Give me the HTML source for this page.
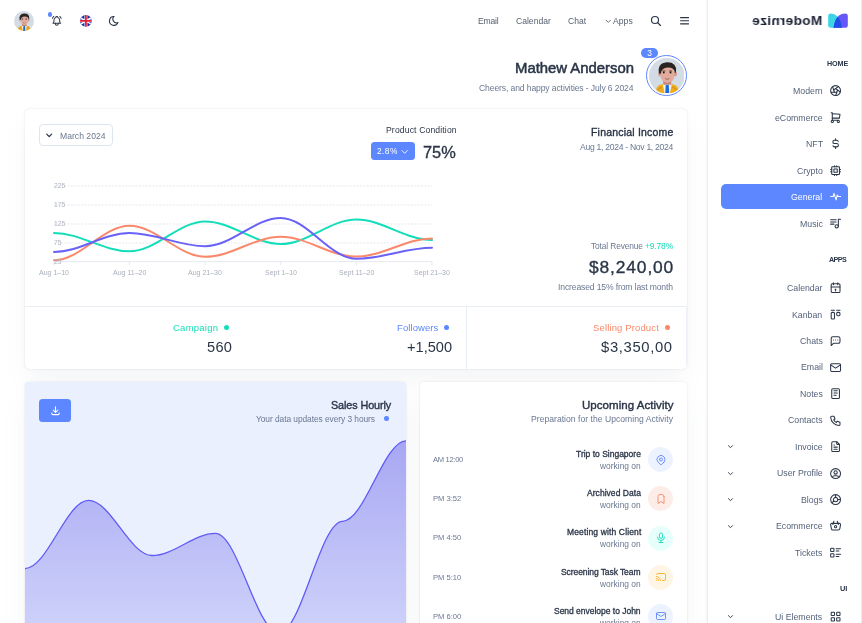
<!DOCTYPE html>
<html lang="en"><head><meta charset="utf-8"><title>Modernize Dashboard</title>
<style>
*{margin:0;padding:0;box-sizing:border-box}
html,body{width:862px;height:623px;overflow:hidden;background:#fff}
body{position:relative;font-family:'Liberation Sans',Arial,sans-serif;color:#2A3547}
.t{position:absolute;white-space:nowrap;line-height:1;will-change:transform}
.a{position:absolute}
svg.i{position:absolute;fill:none;stroke-linecap:round;stroke-linejoin:round}
.card{position:absolute;background:#fff;border-radius:5px;box-shadow:0 0 2px rgba(145,158,171,.30),0 12px 24px -4px rgba(145,158,171,.12)}
.sb{position:absolute;left:707px;top:0;width:155px;height:623px;border-left:1px solid #eaedf3;border-right:1px solid #e9edf4;background:#fff;box-shadow:-1px 0 1.5px rgba(145,158,171,.10)}
.ic{stroke:#2A3547}
.dot{position:absolute;border-radius:50%}
.act{position:absolute;width:25px;height:25px;border-radius:50%}
</style></head><body>

<!-- sidebar -->
<div class="sb"></div>
<div class="a" style="left:721px;top:184px;width:127px;height:25px;border-radius:5px;background:#5D87FF"></div>

<!-- logo -->
<svg class="a" style="left:828px;top:12.5px" width="20" height="15" viewBox="0 0 20 15">
  <path d="M0.2 3 Q0.2 0.5 2.7 0.5 Q6.5 0.5 9.8 3.8 Q13 7.5 14 14.8 L2.5 14.8 Q0.2 14.8 0.2 12.5 Z" fill="#3CD5E6"/>
  <path d="M19.8 3 Q19.8 0.5 17.3 0.5 Q13 0.5 9.8 3.8 Q6.5 7.5 5.5 14.8 L17.5 14.8 Q19.8 14.8 19.8 12.5 Z" fill="#6459F8"/>
  <path d="M9.8 3.8 Q13 7.5 14 14.8 L5.5 14.8 Q6.5 7.5 9.8 3.8 Z" fill="#1F4FE7"/>
</svg>
<div class="t" style="left:751.5px;top:14.2px;font-size:13.6px;font-weight:700;color:#1b2134;transform:scaleX(-1);letter-spacing:0.35px">Modernize</div>

<!-- header left icons -->
<svg class="a" style="left:14px;top:11px" width="20" height="20" viewBox="0 0 40 40">
  <defs><clipPath id="av1"><circle cx="20" cy="20" r="20"/></clipPath></defs>
  <g clip-path="url(#av1)">
  <rect width="40" height="40" fill="#d3dce4"/>
  <path d="M7.5 40 L8.5 34 Q10 30 15 29.5 L26 29.5 Q31 30 32.5 34 L33 40Z" fill="#efab1e"/>
  <path d="M10 36 Q12 33 14.5 33 M26 33 Q29 33 31 36" stroke="#c98314" stroke-width="1" fill="none"/>
  <path d="M15.5 29.5 L25.5 29.5 L23.5 40 L17.5 40Z" fill="#f3f3f3"/>
  <path d="M18.8 30 L22.2 30 L22.8 40 L18.2 40Z" fill="#1f6bd6"/>
  <rect x="16" y="23" width="9" height="7" fill="#c5877a"/>
  <ellipse cx="12.4" cy="18" rx="2" ry="2.8" fill="#d3988a"/>
  <ellipse cx="29.4" cy="18" rx="2" ry="2.8" fill="#d3988a"/>
  <ellipse cx="20.8" cy="18.6" rx="8" ry="9.3" fill="#e2ab9c"/>
  <path d="M11.2 17.5 Q9 6 20 4.8 Q31.5 4.5 30.4 15.5 L29.3 17.3 Q28.5 10.5 21 10.8 Q14 11 13.3 17.8Z" fill="#2a2523"/>
  <path d="M15 14.6 H18.4 M22.6 14.6 H26" stroke="#3d2f2a" stroke-width="0.9"/>
  <circle cx="16.6" cy="16.4" r="1.1" fill="#231c1a"/><circle cx="24.2" cy="16.4" r="1.1" fill="#231c1a"/>
  <path d="M18.4 23.2 Q20.6 24.6 22.8 23.2" stroke="#7a3a30" stroke-width="0.9" fill="#fff"/>
  </g>
</svg>
<div class="dot" style="left:47.7px;top:12.2px;width:4.4px;height:4.4px;background:#5D87FF"></div>
<svg class="i ic" style="left:51.1px;top:14.9px" width="11.6" height="11.6" viewBox="0 0 24 24" stroke-width="2.1">
  <path d="M10 5a2 2 0 0 1 4 0a7 7 0 0 1 4 6v3a4 4 0 0 0 2 3h-16a4 4 0 0 0 2 -3v-3a7 7 0 0 1 4 -6"/><path d="M9 17v1a3 3 0 0 0 6 0v-1"/><path d="M21 6.727a11.05 11.05 0 0 0 -2.794 -3.727"/><path d="M3 6.727a11.05 11.05 0 0 1 2.792 -3.727"/>
</svg>
<svg class="a" style="left:79.8px;top:14.9px" width="11.8" height="11.8" viewBox="0 0 60 60">
  <defs><clipPath id="fl"><circle cx="30" cy="30" r="30"/></clipPath></defs>
  <g clip-path="url(#fl)">
   <rect width="60" height="60" fill="#1b2fa6"/>
   <path d="M-10 5L70 55M70 5L-10 55" stroke="#fff" stroke-width="7"/>
   <path d="M30 0V60M0 30H60" stroke="#fff" stroke-width="15"/>
   <path d="M30 0V60M0 30H60" stroke="#e21f36" stroke-width="9.5"/>
  </g>
</svg>
<svg class="i ic" style="left:107.9px;top:14.6px" width="11.8" height="11.8" viewBox="0 0 24 24" stroke-width="2.2">
  <path d="M12 3c.132 0 .263 0 .393 0a7.5 7.5 0 0 0 7.92 12.446a9 9 0 1 1 -8.313 -12.454z"/>
</svg>

<!-- nav right icons -->
<svg class="i" style="left:604.9px;top:17.6px" width="6.6" height="6.6" viewBox="0 0 24 24" stroke="#575f6e" stroke-width="3.2"><path d="M4 8l8 8l8 -8"/></svg>
<svg class="i ic" style="left:649.5px;top:14.7px" width="12" height="12" viewBox="0 0 24 24" stroke-width="2.3"><path d="M10 10m-7 0a7 7 0 1 0 14 0a7 7 0 1 0 -14 0"/><path d="M21 21l-6 -6"/></svg>
<svg class="a" style="left:679.7px;top:16.8px" width="9.2" height="8" viewBox="0 0 9.2 8"><path d="M0.6 0.7H8.6M0.6 3.75H8.6M0.6 6.8H8.6" stroke="#2A3547" stroke-width="1.25" stroke-linecap="round"/></svg>

<!-- greeting avatar -->
<div class="a" style="left:646.2px;top:55.2px;width:41px;height:41px;border-radius:50%;border:1.8px solid #5D87FF"></div>
<svg class="a" style="left:648.9px;top:57.9px" width="35.6" height="35.6" viewBox="0 0 40 40">
  <defs><clipPath id="av2"><circle cx="20" cy="20" r="20"/></clipPath></defs>
  <g clip-path="url(#av2)">
  <rect width="40" height="40" fill="#d3dce4"/>
  <path d="M7.5 40 L8.5 34 Q10 30 15 29.5 L26 29.5 Q31 30 32.5 34 L33 40Z" fill="#efab1e"/>
  <path d="M10 36 Q12 33 14.5 33 M26 33 Q29 33 31 36" stroke="#c98314" stroke-width="1" fill="none"/>
  <path d="M15.5 29.5 L25.5 29.5 L23.5 40 L17.5 40Z" fill="#f3f3f3"/>
  <path d="M18.8 30 L22.2 30 L22.8 40 L18.2 40Z" fill="#1f6bd6"/>
  <rect x="16" y="23" width="9" height="7" fill="#c5877a"/>
  <ellipse cx="12.4" cy="18" rx="2" ry="2.8" fill="#d3988a"/>
  <ellipse cx="29.4" cy="18" rx="2" ry="2.8" fill="#d3988a"/>
  <ellipse cx="20.8" cy="18.6" rx="8" ry="9.3" fill="#e2ab9c"/>
  <path d="M11.2 17.5 Q9 6 20 4.8 Q31.5 4.5 30.4 15.5 L29.3 17.3 Q28.5 10.5 21 10.8 Q14 11 13.3 17.8Z" fill="#2a2523"/>
  <path d="M15 14.6 H18.4 M22.6 14.6 H26" stroke="#3d2f2a" stroke-width="0.9"/>
  <circle cx="16.6" cy="16.4" r="1.1" fill="#231c1a"/><circle cx="24.2" cy="16.4" r="1.1" fill="#231c1a"/>
  <path d="M18.4 23.2 Q20.6 24.6 22.8 23.2" stroke="#7a3a30" stroke-width="0.9" fill="#fff"/>
  </g>
</svg>
<div class="a" style="left:641px;top:47.8px;width:17px;height:10px;border-radius:5px;background:#5D87FF;color:#fff;font-size:8.4px;line-height:10.4px;text-align:center;will-change:transform">3</div>

<!-- card 1 -->
<div class="card" style="left:25px;top:109px;width:662px;height:260px"></div>
<div class="a" style="left:25px;top:306px;width:662px;height:1px;background:#e9edf4"></div>
<div class="a" style="left:466px;top:306px;width:1px;height:63px;background:#e9edf4"></div>
<div class="a" style="left:686px;top:306px;width:1px;height:59px;background:#edf0f6"></div>
<div class="a" style="left:39px;top:124px;width:74px;height:21.5px;border:1px solid #dfe5ef;border-radius:4px"></div>
<svg class="i" style="left:45.3px;top:131px" width="8.4" height="8.4" viewBox="0 0 24 24" stroke="#2A3547" stroke-width="3.6"><path d="M5 9l7 7l7 -7"/></svg>
<div class="a" style="left:371.2px;top:142.4px;width:44.2px;height:17.3px;border-radius:3.5px;background:#5D87FF"></div>
<svg class="i" style="left:400.4px;top:147.4px" width="9.4" height="9.4" viewBox="0 0 24 24" stroke="#fff" stroke-width="2.2"><path d="M5 9l7 7l7 -7"/></svg>

<!-- chart 1 -->
<svg class="a" style="left:0;top:0" width="862" height="623" viewBox="0 0 862 623">
  <g stroke="#e1e4ea" stroke-width="0.9" stroke-dasharray="2 1.4">
    <path d="M54 186H432M54 205H432M54 224H432M54 243H432"/>
  </g>
  <path d="M54 261.6H432" stroke="#e3e7ef" stroke-width="0.9"/>
  <path d="M54 261.6v3.5M129.6 261.6v3.5M205.2 261.6v3.5M280.8 261.6v3.5M356.4 261.6v3.5M432 261.6v3.5" stroke="#e3e7ef" stroke-width="0.9"/>
  <g fill="none" stroke-width="2" stroke-linecap="round">
  <path stroke="#13DEB9" d="M54.0 233.0 C80.5 233.0 103.1 251.3 129.6 251.3 C156.1 251.3 178.7 221.4 205.2 221.4 C231.7 221.4 254.3 244.0 280.8 244.0 C307.3 244.0 329.9 219.6 356.4 219.6 C382.9 219.6 405.5 240.0 432.0 240.0"/>
  <path stroke="#FA896B" d="M54.0 260.2 C80.5 260.2 103.1 225.7 129.6 225.7 C156.1 225.7 178.7 256.8 205.2 256.8 C231.7 256.8 254.3 236.8 280.8 236.8 C307.3 236.8 329.9 256.6 356.4 256.6 C382.9 256.6 405.5 238.4 432.0 238.4"/>
  <path stroke="#6a62f7" d="M54.0 251.9 C80.5 251.9 103.1 233.0 129.6 233.0 C156.1 233.0 178.7 246.2 205.2 246.2 C231.7 246.2 254.3 218.0 280.8 218.0 C307.3 218.0 329.9 258.8 356.4 258.8 C382.9 258.8 405.5 247.8 432.0 247.8"/>
  </g>
</svg>

<!-- stat dots -->
<div class="dot" style="left:223.8px;top:325px;width:5px;height:5px;background:#13DEB9"></div>
<div class="dot" style="left:443.9px;top:325px;width:5px;height:5px;background:#5D87FF"></div>
<div class="dot" style="left:664.7px;top:325px;width:5px;height:5px;background:#FA896B"></div>

<!-- sales hourly card -->
<div class="card" style="left:25px;top:382px;width:381px;height:260px;background:#EAF0FE;overflow:hidden;border-radius:4px">
 <svg class="a" style="left:-25px;top:-382px" width="862" height="1005" viewBox="0 0 862 1005">
  <defs><linearGradient id="ag" x1="0" y1="440" x2="0" y2="640" gradientUnits="userSpaceOnUse">
    <stop offset="0" stop-color="#7E78EC" stop-opacity="0.62"/><stop offset="1" stop-color="#8f8ff0" stop-opacity="0.30"/></linearGradient>
   <filter id="sh" x="-10%" y="-10%" width="120%" height="130%"><feGaussianBlur stdDeviation="2"/></filter></defs>
  <path d="M25.0 568.6 C47.2 568.6 66.3 500.4 88.5 500.4 C110.7 500.4 129.8 555.5 152.0 555.5 C174.2 555.5 193.3 533.4 215.5 533.4 C237.7 533.4 256.8 633.0 279.0 633.0 C301.2 633.0 320.3 521.3 342.5 521.3 C364.7 521.3 383.8 440.8 406.0 440.8 L406 700 L25 700Z" fill="url(#ag)"/>
  <path d="M25.0 568.6 C47.2 568.6 66.3 500.4 88.5 500.4 C110.7 500.4 129.8 555.5 152.0 555.5 C174.2 555.5 193.3 533.4 215.5 533.4 C237.7 533.4 256.8 633.0 279.0 633.0 C301.2 633.0 320.3 521.3 342.5 521.3 C364.7 521.3 383.8 440.8 406.0 440.8" fill="none" stroke="#5f5cf6" stroke-width="1.3"/>
 </svg>
</div>
<div class="a" style="left:39px;top:398.5px;width:32px;height:23px;border-radius:3.5px;background:#5D87FF"></div>
<svg class="i" style="left:49.5px;top:404.5px" width="11" height="11" viewBox="0 0 24 24" stroke="#fff" stroke-width="2.2"><path d="M4 17v2a2 2 0 0 0 2 2h12a2 2 0 0 0 2 -2v-2"/><path d="M7 11l5 5l5 -5"/><path d="M12 4l0 12"/></svg>
<div class="dot" style="left:384px;top:416px;width:4.6px;height:4.6px;background:#5D87FF"></div>

<!-- upcoming card -->
<div class="card" style="left:420px;top:382px;width:267px;height:260px;border-radius:4px"></div>
<div class="act" style="left:648.3px;top:447.3px;background:#ECF2FF"></div>
<svg class="i" style="left:654.8px;top:453.8px" width="12" height="12" viewBox="0 0 24 24" stroke="#5D87FF" stroke-width="1.8"><path d="M9 11a3 3 0 1 0 6 0a3 3 0 0 0 -6 0"/><path d="M17.657 16.657l-4.243 4.243a2 2 0 0 1 -2.827 0l-4.244 -4.243a8 8 0 1 1 11.314 0z"/></svg>
<div class="act" style="left:648.3px;top:486.4px;background:#FDEDE8"></div>
<svg class="i" style="left:654.8px;top:492.9px" width="12" height="12" viewBox="0 0 24 24" stroke="#FA896B" stroke-width="1.8"><path d="M18 7v14l-6 -4l-6 4v-14a4 4 0 0 1 4 -4h4a4 4 0 0 1 4 4z"/></svg>
<div class="act" style="left:648.3px;top:525.5px;background:#E6FFFA"></div>
<svg class="i" style="left:654.8px;top:532px" width="12" height="12" viewBox="0 0 24 24" stroke="#13DEB9" stroke-width="1.8"><path d="M9 2m0 3a3 3 0 0 1 3 -3h0a3 3 0 0 1 3 3v5a3 3 0 0 1 -3 3h0a3 3 0 0 1 -3 -3z"/><path d="M5 10a7 7 0 0 0 14 0"/><path d="M8 21l8 0"/><path d="M12 17l0 4"/></svg>
<div class="act" style="left:648.3px;top:564.6px;background:#FEF5E5"></div>
<svg class="i" style="left:654.8px;top:571.1px" width="12" height="12" viewBox="0 0 24 24" stroke="#FFAE1F" stroke-width="1.8"><path d="M3 19l.01 0"/><path d="M7 19a4 4 0 0 0 -4 -4"/><path d="M11 19a8 8 0 0 0 -8 -8"/><path d="M15 19h3a3 3 0 0 0 3 -3v-8a3 3 0 0 0 -3 -3h-12a3 3 0 0 0 -2.8 2"/></svg>
<div class="act" style="left:648.3px;top:603.7px;background:#ECF2FF"></div>
<svg class="i" style="left:654.8px;top:610.2px" width="12" height="12" viewBox="0 0 24 24" stroke="#5D87FF" stroke-width="1.8"><path d="M3 7a2 2 0 0 1 2 -2h14a2 2 0 0 1 2 2v10a2 2 0 0 1 -2 2h-14a2 2 0 0 1 -2 -2v-10z"/><path d="M3 7l9 6l9 -6"/></svg>

<!-- sidebar icons -->
<svg class="i" style="left:829.40px;top:84.40px" width="13.2" height="13.2" viewBox="0 0 24 24" stroke="#2A3547" stroke-width="1.9"><path d="M12 12m-9 0a9 9 0 1 0 18 0a9 9 0 1 0 -18 0"/><path d="M3.6 15h10.55"/><path d="M6.551 4.938l3.26 10.034"/><path d="M17.032 4.636l-8.535 6.201"/><path d="M20.559 14.51l-8.535 -6.201"/><path d="M12.257 20.916l3.261 -10.034"/></svg>
<svg class="i" style="left:829.40px;top:110.90px" width="13.2" height="13.2" viewBox="0 0 24 24" stroke="#2A3547" stroke-width="1.9"><path d="M6 19m-2 0a2 2 0 1 0 4 0a2 2 0 1 0 -4 0"/><path d="M17 19m-2 0a2 2 0 1 0 4 0a2 2 0 1 0 -4 0"/><path d="M17 17h-11v-14h-2"/><path d="M6 5l14 1l-1 7h-13"/></svg>
<svg class="i" style="left:829.40px;top:137.40px" width="13.2" height="13.2" viewBox="0 0 24 24" stroke="#2A3547" stroke-width="1.9"><path d="M16.7 8a3 3 0 0 0 -2.7 -2h-4a3 3 0 0 0 0 6h4a3 3 0 0 1 0 6h-4a3 3 0 0 1 -2.7 -2"/><path d="M12 3v3m0 12v3"/></svg>
<svg class="i" style="left:829.40px;top:163.90px" width="13.2" height="13.2" viewBox="0 0 24 24" stroke="#2A3547" stroke-width="1.9"><path d="M5 5m0 1a1 1 0 0 1 1 -1h12a1 1 0 0 1 1 1v12a1 1 0 0 1 -1 1h-12a1 1 0 0 1 -1 -1z"/><path d="M9 9h6v6h-6z"/><path d="M3 10h2"/><path d="M3 14h2"/><path d="M10 3v2"/><path d="M14 3v2"/><path d="M21 10h-2"/><path d="M21 14h-2"/><path d="M14 21v-2"/><path d="M10 21v-2"/></svg>
<svg class="i" style="left:829.40px;top:190.40px" width="13.2" height="13.2" viewBox="0 0 24 24" stroke="#fff" stroke-width="1.9"><path d="M3 12h4.5l1.5 -6l4 12l2 -9l1.5 3h4.5"/></svg>
<svg class="i" style="left:829.40px;top:216.90px" width="13.2" height="13.2" viewBox="0 0 24 24" stroke="#2A3547" stroke-width="1.9"><path d="M14 17m-3 0a3 3 0 1 0 6 0a3 3 0 1 0 -6 0"/><path d="M17 17v-13h4"/><path d="M13 5h-10"/><path d="M3 9l10 0"/><path d="M9 13h-6"/></svg>
<svg class="i" style="left:829.40px;top:281.40px" width="13.2" height="13.2" viewBox="0 0 24 24" stroke="#2A3547" stroke-width="1.9"><path d="M4 7a2 2 0 0 1 2 -2h12a2 2 0 0 1 2 2v12a2 2 0 0 1 -2 2h-12a2 2 0 0 1 -2 -2v-12z"/><path d="M16 3v4"/><path d="M8 3v4"/><path d="M4 11h16"/><path d="M11 15h1"/><path d="M12 15v3"/></svg>
<svg class="i" style="left:829.40px;top:307.85px" width="13.2" height="13.2" viewBox="0 0 24 24" stroke="#2A3547" stroke-width="1.9"><path d="M4 4l6 0"/><path d="M14 4l6 0"/><path d="M4 8m0 2a2 2 0 0 1 2 -2h2a2 2 0 0 1 2 2v8a2 2 0 0 1 -2 2h-2a2 2 0 0 1 -2 -2z"/><path d="M14 8m0 2a2 2 0 0 1 2 -2h2a2 2 0 0 1 2 2v2a2 2 0 0 1 -2 2h-2a2 2 0 0 1 -2 -2z"/></svg>
<svg class="i" style="left:829.40px;top:334.30px" width="13.2" height="13.2" viewBox="0 0 24 24" stroke="#2A3547" stroke-width="1.9"><path d="M4 21v-13a3 3 0 0 1 3 -3h10a3 3 0 0 1 3 3v6a3 3 0 0 1 -3 3h-9l-4 4"/><path d="M12 11l0 .01"/><path d="M8 11l0 .01"/><path d="M16 11l0 .01"/></svg>
<svg class="i" style="left:829.40px;top:360.75px" width="13.2" height="13.2" viewBox="0 0 24 24" stroke="#2A3547" stroke-width="1.9"><path d="M3 7a2 2 0 0 1 2 -2h14a2 2 0 0 1 2 2v10a2 2 0 0 1 -2 2h-14a2 2 0 0 1 -2 -2v-10z"/><path d="M3 7l9 6l9 -6"/></svg>
<svg class="i" style="left:829.40px;top:387.20px" width="13.2" height="13.2" viewBox="0 0 24 24" stroke="#2A3547" stroke-width="1.9"><path d="M5 3m0 2a2 2 0 0 1 2 -2h10a2 2 0 0 1 2 2v14a2 2 0 0 1 -2 2h-10a2 2 0 0 1 -2 -2z"/><path d="M9 7l6 0"/><path d="M9 11l6 0"/><path d="M9 15l4 0"/></svg>
<svg class="i" style="left:829.40px;top:413.65px" width="13.2" height="13.2" viewBox="0 0 24 24" stroke="#2A3547" stroke-width="1.9"><path d="M5 4h4l2 5l-2.5 1.5a11 11 0 0 0 5 5l1.5 -2.5l5 2v4a2 2 0 0 1 -2 2a16 16 0 0 1 -15 -15a2 2 0 0 1 2 -2"/></svg>
<svg class="i" style="left:829.40px;top:440.10px" width="13.2" height="13.2" viewBox="0 0 24 24" stroke="#2A3547" stroke-width="1.9"><path d="M14 3v4a1 1 0 0 0 1 1h4"/><path d="M17 21h-10a2 2 0 0 1 -2 -2v-14a2 2 0 0 1 2 -2h7l5 5v11a2 2 0 0 1 -2 2z"/><path d="M9 9l1 0"/><path d="M9 13l6 0"/><path d="M9 17l6 0"/></svg>
<svg class="i" style="left:727.30px;top:443.20px" width="7" height="7" viewBox="0 0 24 24" stroke="#2A3547" stroke-width="3.2"><path d="M5 9l7 7l7 -7"/></svg>
<svg class="i" style="left:829.40px;top:466.55px" width="13.2" height="13.2" viewBox="0 0 24 24" stroke="#2A3547" stroke-width="1.9"><path d="M12 12m-9 0a9 9 0 1 0 18 0a9 9 0 1 0 -18 0"/><path d="M12 10m-3 0a3 3 0 1 0 6 0a3 3 0 1 0 -6 0"/><path d="M6.168 18.849a4 4 0 0 1 3.832 -2.849h4a4 4 0 0 1 3.834 2.855"/></svg>
<svg class="i" style="left:727.30px;top:469.65px" width="7" height="7" viewBox="0 0 24 24" stroke="#2A3547" stroke-width="3.2"><path d="M5 9l7 7l7 -7"/></svg>
<svg class="i" style="left:829.40px;top:493.00px" width="13.2" height="13.2" viewBox="0 0 24 24" stroke="#2A3547" stroke-width="1.9"><path d="M12 3v5m4 4h5"/><path d="M8.929 14.582l-3.429 2.918"/><path d="M12 12m-4 0a4 4 0 1 0 8 0a4 4 0 1 0 -8 0"/><path d="M12 12m-9 0a9 9 0 1 0 18 0a9 9 0 1 0 -18 0"/></svg>
<svg class="i" style="left:727.30px;top:496.10px" width="7" height="7" viewBox="0 0 24 24" stroke="#2A3547" stroke-width="3.2"><path d="M5 9l7 7l7 -7"/></svg>
<svg class="i" style="left:829.40px;top:519.45px" width="13.2" height="13.2" viewBox="0 0 24 24" stroke="#2A3547" stroke-width="1.9"><path d="M10 14a2 2 0 1 0 4 0a2 2 0 0 0 -4 0"/><path d="M5.001 8h13.999a2 2 0 0 1 1.977 2.304l-1.255 7.152a3 3 0 0 1 -2.966 2.544h-9.512a3 3 0 0 1 -2.965 -2.544l-1.255 -7.152a2 2 0 0 1 1.977 -2.304z"/><path d="M17 10l-2 -6"/><path d="M7 10l2 -6"/></svg>
<svg class="i" style="left:727.30px;top:522.55px" width="7" height="7" viewBox="0 0 24 24" stroke="#2A3547" stroke-width="3.2"><path d="M5 9l7 7l7 -7"/></svg>
<svg class="i" style="left:829.40px;top:545.90px" width="13.2" height="13.2" viewBox="0 0 24 24" stroke="#2A3547" stroke-width="1.9"><path d="M13 5h8"/><path d="M13 9h5"/><path d="M13 15h8"/><path d="M13 19h5"/><path d="M3 4m0 1a1 1 0 0 1 1 -1h4a1 1 0 0 1 1 1v4a1 1 0 0 1 -1 1h-4a1 1 0 0 1 -1 -1z"/><path d="M3 14m0 1a1 1 0 0 1 1 -1h4a1 1 0 0 1 1 1v4a1 1 0 0 1 -1 1h-4a1 1 0 0 1 -1 -1z"/></svg>
<svg class="i" style="left:829.40px;top:610.00px" width="13.2" height="13.2" viewBox="0 0 24 24" stroke="#2A3547" stroke-width="1.9"><path d="M4 4m0 1a1 1 0 0 1 1 -1h4a1 1 0 0 1 1 1v4a1 1 0 0 1 -1 1h-4a1 1 0 0 1 -1 -1z"/><path d="M14 4m0 1a1 1 0 0 1 1 -1h4a1 1 0 0 1 1 1v4a1 1 0 0 1 -1 1h-4a1 1 0 0 1 -1 -1z"/><path d="M4 14m0 1a1 1 0 0 1 1 -1h4a1 1 0 0 1 1 1v4a1 1 0 0 1 -1 1h-4a1 1 0 0 1 -1 -1z"/><path d="M14 14m0 1a1 1 0 0 1 1 -1h4a1 1 0 0 1 1 1v4a1 1 0 0 1 -1 1h-4a1 1 0 0 1 -1 -1z"/></svg>
<svg class="i" style="left:727.30px;top:613.10px" width="7" height="7" viewBox="0 0 24 24" stroke="#2A3547" stroke-width="3.2"><path d="M5 9l7 7l7 -7"/></svg>

<div class="t" style="top:17.00px;font-size:8.6px;color:#575f6e;letter-spacing:-0.225px;left:478.40px;">Email</div>
<div class="t" style="top:17.00px;font-size:8.6px;color:#575f6e;letter-spacing:-0.011px;left:516.20px;">Calendar</div>
<div class="t" style="top:17.00px;font-size:8.6px;color:#575f6e;letter-spacing:-0.019px;left:568.30px;">Chat</div>
<div class="t" style="top:17.00px;font-size:8.6px;color:#575f6e;letter-spacing:0.035px;left:613.00px;">Apps</div>
<div class="t" style="top:61.40px;font-size:14.9px;color:#2A3547;-webkit-text-stroke:0.52px currentColor;letter-spacing:-0.015px;left:514.80px;">Mathew Anderson</div>
<div class="t" style="top:84.00px;font-size:8.6px;color:#6b7891;letter-spacing:-0.123px;left:479.30px;">Cheers, and happy activities - July 6 2024</div>
<div class="t" style="top:131.80px;font-size:8.6px;color:#6b7891;letter-spacing:0.012px;left:59.80px;">March 2024</div>
<div class="t" style="top:126.10px;font-size:8.6px;color:#2A3547;letter-spacing:0.142px;left:386.40px;">Product Condition</div>
<div class="t" style="top:146.90px;font-size:8.4px;color:#fff;letter-spacing:0.435px;left:376.60px;">2.8%</div>
<div class="t" style="top:143.60px;font-size:16.4px;color:#2A3547;-webkit-text-stroke:0.33px currentColor;left:423.20px;">75%</div>
<div class="t" style="top:127.20px;font-size:10.5px;color:#2A3547;-webkit-text-stroke:0.37px currentColor;letter-spacing:0.202px;left:590.60px;">Financial Income</div>
<div class="t" style="top:142.70px;font-size:8.6px;color:#6b7891;letter-spacing:-0.293px;left:579.70px;">Aug 1, 2024 - Nov 1, 2024</div>
<div class="t" style="top:241.80px;font-size:8.4px;color:#6b7891;letter-spacing:-0.127px;left:590.90px;">Total Revenue <span style="color:#13DEB9">+9.78%</span></div>
<div class="t" style="top:258.60px;font-size:17.4px;color:#2A3547;-webkit-text-stroke:0.35px currentColor;letter-spacing:0.866px;left:588.70px;">$8,240,00</div>
<div class="t" style="top:283.20px;font-size:8.6px;color:#6b7891;letter-spacing:-0.141px;left:558.00px;">Increased 15% from last month</div>
<div class="t" style="top:322.70px;font-size:9.5px;color:#13DEB9;letter-spacing:0.241px;left:173.00px;">Campaign</div>
<div class="t" style="top:339.80px;font-size:14.6px;color:#2A3547;letter-spacing:0.320px;left:206.50px;">560</div>
<div class="t" style="top:322.70px;font-size:9.5px;color:#5D87FF;letter-spacing:0.080px;left:396.70px;">Followers</div>
<div class="t" style="top:339.80px;font-size:14.6px;color:#2A3547;left:406.50px;">+1,500</div>
<div class="t" style="top:322.70px;font-size:9.5px;color:#FA896B;letter-spacing:0.135px;left:592.90px;">Selling Product</div>
<div class="t" style="top:339.80px;font-size:14.8px;color:#2A3547;letter-spacing:0.646px;left:601.10px;">$3,350,00</div>
<div class="t" style="top:399.90px;font-size:10.8px;color:#2A3547;-webkit-text-stroke:0.38px currentColor;letter-spacing:-0.093px;left:331.30px;">Sales Hourly</div>
<div class="t" style="top:414.50px;font-size:8.4px;color:#6b7891;letter-spacing:-0.058px;left:256.30px;">Your data updates every 3 hours</div>
<div class="t" style="top:400.00px;font-size:11.5px;color:#2A3547;-webkit-text-stroke:0.40px currentColor;letter-spacing:0.046px;left:581.50px;">Upcoming Activity</div>
<div class="t" style="top:415.00px;font-size:8.6px;color:#6b7891;letter-spacing:0.017px;left:531.00px;">Preparation for the Upcoming Activity</div>
<div class="t" style="top:450.20px;font-size:8.5px;color:#2A3547;-webkit-text-stroke:0.30px currentColor;left:575.80px;">Trip to Singapore</div>
<div class="t" style="top:462.20px;font-size:8.4px;color:#6b7891;letter-spacing:0.020px;left:600.10px;">working on</div>
<div class="t" style="top:456.20px;font-size:7.6px;color:#6b7891;letter-spacing:-0.317px;left:433.20px;">AM 12:00</div>
<div class="t" style="top:489.30px;font-size:8.5px;color:#2A3547;-webkit-text-stroke:0.30px currentColor;letter-spacing:0.042px;left:586.90px;">Archived Data</div>
<div class="t" style="top:501.30px;font-size:8.4px;color:#6b7891;letter-spacing:0.020px;left:600.10px;">working on</div>
<div class="t" style="top:495.30px;font-size:7.6px;color:#6b7891;left:433.20px;">PM 3:52</div>
<div class="t" style="top:528.40px;font-size:8.5px;color:#2A3547;-webkit-text-stroke:0.30px currentColor;letter-spacing:0.138px;left:566.50px;">Meeting with Client</div>
<div class="t" style="top:540.40px;font-size:8.4px;color:#6b7891;letter-spacing:0.020px;left:600.10px;">working on</div>
<div class="t" style="top:534.40px;font-size:7.6px;color:#6b7891;left:433.20px;">PM 4:50</div>
<div class="t" style="top:567.50px;font-size:8.5px;color:#2A3547;-webkit-text-stroke:0.30px currentColor;letter-spacing:-0.082px;left:561.30px;">Screening Task Team</div>
<div class="t" style="top:579.50px;font-size:8.4px;color:#6b7891;letter-spacing:0.020px;left:600.10px;">working on</div>
<div class="t" style="top:573.50px;font-size:7.6px;color:#6b7891;left:433.20px;">PM 5:10</div>
<div class="t" style="top:606.60px;font-size:8.5px;color:#2A3547;-webkit-text-stroke:0.30px currentColor;letter-spacing:-0.018px;left:554.20px;">Send envelope to John</div>
<div class="t" style="top:618.60px;font-size:8.4px;color:#6b7891;letter-spacing:0.020px;left:600.10px;">working on</div>
<div class="t" style="top:612.60px;font-size:7.6px;color:#6b7891;left:433.20px;">PM 6:00</div>
<div class="t" style="top:87.10px;font-size:8.75px;color:#55627a;left:792.93px;">Modern</div>
<div class="t" style="top:113.60px;font-size:8.75px;color:#55627a;left:774.94px;">eCommerce</div>
<div class="t" style="top:140.10px;font-size:8.75px;color:#55627a;left:805.58px;">NFT</div>
<div class="t" style="top:166.60px;font-size:8.75px;color:#55627a;left:796.82px;">Crypto</div>
<div class="t" style="top:193.10px;font-size:8.75px;color:#fff;left:791.46px;">General</div>
<div class="t" style="top:219.60px;font-size:8.75px;color:#55627a;left:799.74px;">Music</div>
<div class="t" style="top:284.10px;font-size:8.75px;color:#55627a;left:787.08px;">Calendar</div>
<div class="t" style="top:310.55px;font-size:8.75px;color:#55627a;left:792.43px;">Kanban</div>
<div class="t" style="top:337.00px;font-size:8.75px;color:#55627a;left:799.74px;">Chats</div>
<div class="t" style="top:363.45px;font-size:8.75px;color:#55627a;left:800.71px;">Email</div>
<div class="t" style="top:389.90px;font-size:8.75px;color:#55627a;left:799.74px;">Notes</div>
<div class="t" style="top:416.35px;font-size:8.75px;color:#55627a;left:788.07px;">Contacts</div>
<div class="t" style="top:442.80px;font-size:8.75px;color:#55627a;left:794.87px;">Invoice</div>
<div class="t" style="top:469.25px;font-size:8.75px;color:#55627a;left:776.88px;">User Profile</div>
<div class="t" style="top:495.70px;font-size:8.75px;color:#55627a;left:800.71px;">Blogs</div>
<div class="t" style="top:522.15px;font-size:8.75px;color:#55627a;left:775.91px;">Ecommerce</div>
<div class="t" style="top:548.60px;font-size:8.75px;color:#55627a;left:795.21px;">Tickets</div>
<div class="t" style="top:612.70px;font-size:8.75px;color:#55627a;left:775.43px;">Ui Elements</div>
<div class="t" style="top:59.70px;font-size:7.2px;color:#2A3547;font-weight:700;letter-spacing:-0.121px;left:826.50px;">HOME</div>
<div class="t" style="top:256.00px;font-size:7.2px;color:#2A3547;font-weight:700;letter-spacing:-0.593px;left:829.40px;">APPS</div>
<div class="t" style="top:585.20px;font-size:7.4px;color:#2A3547;font-weight:700;left:839.89px;">UI</div>
<div class="t" style="top:183.40px;font-size:6.8px;color:#b0b5c0;left:54.20px;">225</div>
<div class="t" style="top:202.40px;font-size:6.8px;color:#b0b5c0;left:54.20px;">175</div>
<div class="t" style="top:221.40px;font-size:6.8px;color:#b0b5c0;left:54.20px;">125</div>
<div class="t" style="top:240.40px;font-size:6.8px;color:#b0b5c0;left:54.20px;">75</div>
<div class="t" style="top:259.40px;font-size:6.8px;color:#b0b5c0;left:54.20px;">25</div>
<div class="t" style="top:269.00px;font-size:7.0px;color:#a9afbb;left:39.01px">Aug 1–10</div>
<div class="t" style="top:269.00px;font-size:7.0px;color:#a9afbb;left:112.92px">Aug 11–20</div>
<div class="t" style="top:269.00px;font-size:7.0px;color:#a9afbb;left:188.26px">Aug 21–30</div>
<div class="t" style="top:269.00px;font-size:7.0px;color:#a9afbb;left:264.84px">Sept 1–10</div>
<div class="t" style="top:269.00px;font-size:7.0px;color:#a9afbb;left:338.75px">Sept 11–20</div>
<div class="t" style="top:269.00px;font-size:7.0px;color:#a9afbb;left:414.09px">Sept 21–30</div>
</body></html>
